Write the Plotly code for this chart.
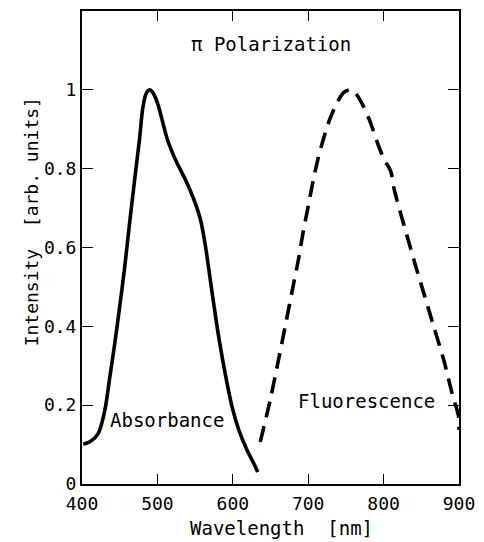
import plotly.graph_objects as go

abs_wl = [401.7, 410.5, 421.5, 430.3, 436.8, 443.4, 450, 456.6, 463, 469.7, 476.3, 480.7,
          485, 489.5, 494, 500.4, 507, 513.6, 524.6, 537.7, 548.7, 557.5, 564, 570,
          576, 582, 590.4, 599, 608, 618.8, 629.9, 633]
abs_int = [0.101, 0.107, 0.128, 0.187, 0.27, 0.356, 0.45, 0.55, 0.66, 0.77, 0.875, 0.955,
           0.99, 1.0, 0.993, 0.965, 0.918, 0.872, 0.82, 0.77, 0.72, 0.668, 0.60, 0.52,
           0.44, 0.365, 0.275, 0.196, 0.137, 0.086, 0.044, 0.03]

flu_wl = [636.4, 649.6, 660.5, 669.3, 678, 686.8, 693.4, 700, 706.6, 713, 719.7, 728.5,
          739.5, 747, 754.8, 762, 770, 781, 792, 801, 806.5, 810, 814, 822.8, 831.6, 840.4,
          853.5, 866.7, 879.9, 890.8, 899.6, 900]
flu_int = [0.107, 0.213, 0.314, 0.398, 0.483, 0.567, 0.64, 0.705, 0.77, 0.825, 0.872, 0.925,
           0.972, 0.993, 1.0, 0.993, 0.97, 0.925, 0.865, 0.822, 0.805, 0.79, 0.748, 0.685,
           0.626, 0.567, 0.483, 0.398, 0.314, 0.23, 0.17, 0.137]

x_ticks = [400, 500, 600, 700, 800, 900]
x_tick_text = ["400", "500", "600", "700", "800", "900"]
y_ticks = [0, 0.2, 0.4, 0.6, 0.8, 1]
y_tick_text = ["0", "0.2", "0.4", "0.6", "0.8", "1"]

FONT = "DejaVu Sans Mono"
FS = 18

fig = go.Figure()
fig.add_trace(go.Scatter(x=abs_wl, y=abs_int, mode="lines",
                         line=dict(color="black", width=3.6, shape="spline", smoothing=0.8),
                         showlegend=False, hoverinfo="skip"))
fig.add_trace(go.Scatter(x=flu_wl, y=flu_int, mode="lines",
                         line=dict(color="black", width=3.6, shape="spline", smoothing=0.8,
                                   dash="16px,9px"),
                         showlegend=False, hoverinfo="skip"))

fig.add_annotation(x=651, y=1.116, text="π Polarization", showarrow=False,
                   font=dict(family=FONT, size=19, color="black"))
fig.add_annotation(x=513, y=0.163, text="Absorbance", showarrow=False,
                   font=dict(family=FONT, size=19, color="black"))
fig.add_annotation(x=777, y=0.211, text="Fluorescence", showarrow=False,
                   font=dict(family=FONT, size=19, color="black"))

# axis titles placed as in the reference
fig.add_annotation(xref="paper", x=-0.134, yref="y", y=0.665, text="Intensity  [arb. units]",
                   textangle=-90, showarrow=False, xanchor="center", yanchor="middle",
                   font=dict(family=FONT, size=18, color="black"))
fig.add_annotation(xref="paper", x=0.53, yref="paper", y=-0.093, text="Wavelength  [nm]",
                   showarrow=False, xanchor="center", yanchor="middle",
                   font=dict(family=FONT, size=19, color="black"))

fig.update_layout(
    width=484, height=542,
    margin=dict(l=82, r=22, t=9, b=58),
    paper_bgcolor="white", plot_bgcolor="white",
    font=dict(family=FONT, size=FS, color="black"),
    xaxis=dict(range=[400, 900], tickvals=x_ticks, ticktext=x_tick_text, ticks="inside",
               ticklen=10, tickwidth=1.3, tickcolor="black", showline=True, linecolor="black",
               linewidth=2, mirror="ticks", showgrid=False, zeroline=False,
               ticklabelstandoff=2, tickfont=dict(family=FONT, size=FS)),
    yaxis=dict(range=[0, 1.2], tickvals=y_ticks, ticktext=y_tick_text, ticks="inside",
               ticklen=11, tickwidth=1.3, tickcolor="black", showline=True, linecolor="black",
               linewidth=2, mirror="ticks", showgrid=False, zeroline=False,
               ticklabelstandoff=0, tickfont=dict(family=FONT, size=FS)),
)

fig.write_html("out.html")
